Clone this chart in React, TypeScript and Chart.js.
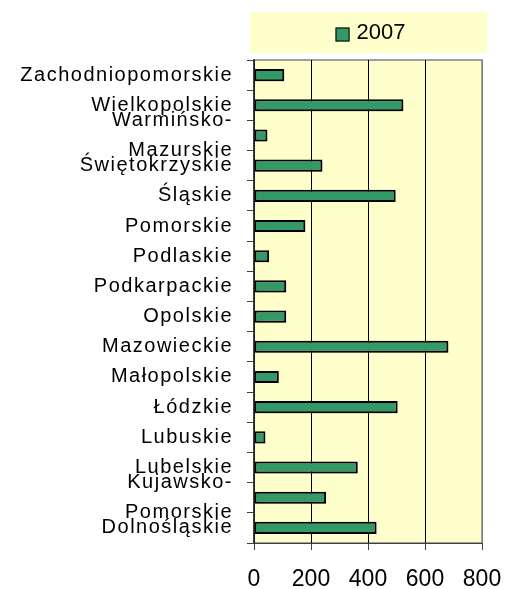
import React, { useEffect, useRef } from "react";
import { Chart, registerables } from "chart.js";

Chart.register(...registerables);

const categories: (string | string[])[] = [
  "Zachodniopomorskie",
  "Wielkopolskie",
  ["Warmińsko-", "Mazurskie"],
  "Świętokrzyskie",
  "Śląskie",
  "Pomorskie",
  "Podlaskie",
  "Podkarpackie",
  "Opolskie",
  "Mazowieckie",
  "Małopolskie",
  "Łódzkie",
  "Lubuskie",
  "Lubelskie",
  ["Kujawsko-", "Pomorskie"],
  "Dolnośląskie",
];

const seriesLabel = "2007";
const values2007 = [106, 524, 47, 240, 497, 180, 53, 113, 113, 682, 87, 504, 40, 364, 253, 430];

const xMin = 0;
const xMax = 800;
const xStep = 200;

const FONT = "'Liberation Sans', Arial, sans-serif";
const BAR_GREEN = "#339966";
const PLOT_BG = "#FFFFCC";

const plotBgPlugin = {
  id: "plotBg",
  beforeDraw(chart: any) {
    const { ctx, chartArea } = chart;
    ctx.save();
    ctx.fillStyle = PLOT_BG;
    ctx.fillRect(chartArea.left, chartArea.top, chartArea.width, chartArea.height);
    ctx.strokeStyle = "#808080";
    ctx.lineWidth = 1.5;
    ctx.strokeRect(chartArea.left, chartArea.top, chartArea.width, chartArea.height);
    ctx.restore();
  },
  beforeDatasetsDraw(chart: any) {
    const { ctx } = chart;
    ctx.save();
    ctx.shadowColor = "rgba(0,0,0,0.22)";
    ctx.shadowOffsetX = 2;
    ctx.shadowOffsetY = 2;
    ctx.shadowBlur = 0;
  },
  afterDatasetsDraw(chart: any) {
    chart.ctx.restore();
  },
};

const legendPlugin = {
  id: "boxLegend",
  afterDraw(chart: any) {
    const { ctx, chartArea } = chart;
    const ds = chart.data.datasets[0];
    const left = chartArea.left - 4;
    const right = chartArea.right + 5;
    const top = 12;
    const h = 41;
    ctx.save();
    ctx.fillStyle = PLOT_BG;
    ctx.fillRect(left, top, right - left, h);
    ctx.font = `22px ${FONT}`;
    const tw = ctx.measureText(ds.label).width;
    const sq = 14;
    const gap = 7;
    const total = sq + gap + tw;
    const cx = (left + right) / 2 + 2;
    const x0 = cx - total / 2;
    ctx.fillStyle = ds.backgroundColor;
    ctx.fillRect(x0, 27.5, sq, sq);
    ctx.strokeStyle = "#000";
    ctx.lineWidth = 1;
    ctx.strokeRect(x0 + 0.5, 28, sq - 1, sq - 1);
    ctx.fillStyle = "#000";
    ctx.textBaseline = "alphabetic";
    ctx.textAlign = "left";
    ctx.fillText(ds.label, x0 + sq + gap, 39);
    ctx.restore();
  },
};

export default function App() {
  const ref = useRef<HTMLCanvasElement | null>(null);

  useEffect(() => {
    document.documentElement.style.overflow = "hidden";
    document.body.style.margin = "0";
    document.body.style.overflow = "hidden";
    if (!ref.current) return;
    const chart = new Chart(ref.current, {
      type: "bar",
      data: {
        labels: categories as any,
        datasets: [
          {
            label: seriesLabel,
            data: values2007,
            backgroundColor: BAR_GREEN,
            borderColor: "#000000",
            borderWidth: 2,
            borderSkipped: false,
            categoryPercentage: 1,
            barPercentage: 0.4,
          },
        ],
      },
      options: {
        indexAxis: "y",
        responsive: false,
        animation: false,
        layout: { padding: { top: 60, right: 24, bottom: 0, left: 0 } },
        plugins: {
          legend: { display: false },
          title: { display: false },
          tooltip: { enabled: false },
        },
        scales: {
          x: {
            type: "linear",
            min: xMin,
            max: xMax,
            ticks: {
              stepSize: xStep,
              color: "#000",
              font: { family: FONT, size: 23 },
              padding: 16,
              maxRotation: 0,
            },
            grid: {
              color: (c: any) => (c.tick && c.tick.value === xMax ? "#808080" : "#000000"),
              lineWidth: 1,
              tickLength: 7,
              tickColor: "#404040",
            },
            border: { display: true, color: "#404040", width: 1 },
            afterFit: (scale: any) => {
              scale.height = 46;
              scale.paddingLeft = 0;
              scale.paddingRight = 0;
            },
          },
          y: {
            type: "category",
            ticks: {
              color: "#000",
              font: { family: FONT, size: 20, lineHeight: 1.5 },
              padding: 14,
              autoSkip: false,
            },
            grid: {
              drawOnChartArea: false,
              drawTicks: true,
              tickLength: 7,
              tickColor: "#404040",
              color: "#404040",
            },
            border: { display: true, color: "#404040", width: 1.5 },
            afterFit: (scale: any) => {
              scale.width = 254;
              if (!scale._lsPatched) {
                const orig = scale.drawLabels.bind(scale);
                scale.drawLabels = (area: any) => {
                  const c = scale.ctx;
                  c.save();
                  c.letterSpacing = "1.5px";
                  orig(area);
                  c.restore();
                };
                scale._lsPatched = true;
              }
            },
          },
        },
      },
      plugins: [plotBgPlugin, legendPlugin],
    } as any);
    return () => chart.destroy();
  }, []);

  return <canvas ref={ref} width={506} height={589} style={{ display: "block" }} />;
}
